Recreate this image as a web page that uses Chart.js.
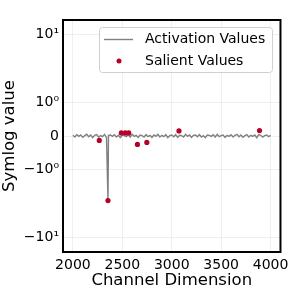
<!DOCTYPE html>
<html>
<head>
<meta charset="utf-8">
<script src="https://cdn.jsdelivr.net/npm/chart.js@4"></script>
<style>
  html, body { margin: 0; padding: 0; background: #fff; }
  #wrap { width: 294px; height: 294px; }
</style>
</head>
<body>
<div id="wrap"><canvas id="chart" width="294" height="294"></canvas></div>
<script>
// channels of the activation trace: 2000..4000, every 20
const channelStart = 2000;
const channelStep = 20;
const activationValues = [
  0.02, -0.03, 0.04, -0.01, 0.03, -0.04, 0.01, 0.05, -0.02, 0.03,
  -0.05, 0.02, 0.04, -0.03, 0.01, -0.02, 0.05, -0.04, 0.02, 0.03,
  -0.01, 0.04, -0.03, 0.02, -0.05, 0.03, 0.01, -0.02, 0.04, -0.03,
  0.05, -0.01, 0.02, -0.04, 0.03, 0.01, -0.03, 0.04, -0.02, 0.02,
  -0.04, 0.03, -0.01, 0.05, -0.03, 0.02, -0.02, 0.04, -0.05, 0.01,
  0.03, -0.02, 0.04, -0.04, 0.02, 0.01, -0.03, 0.05, -0.01, 0.03,
  -0.04, 0.02, 0.03, -0.02, 0.04, -0.03, 0.01, -0.05, 0.03, 0.02,
  -0.01, 0.04, -0.03, 0.05, -0.02, 0.01, 0.03, -0.04, 0.02, -0.01,
  0.04, -0.03, 0.02, 0.05, -0.02, 0.03, -0.04, 0.01, 0.04, -0.03,
  0.02, -0.01, 0.03, -0.05, 0.04, 0.02, -0.03, 0.01, 0.03, -0.02,
  0.02
];
// the one large excursion in the trace
const spikeChannel = 2355;
const spikeValue = -2.85;

// salient channels
const salientChannels = [2267, 2355, 2490, 2531, 2565, 2653, 2748, 3073, 3888];
const salientValues = [-0.13, -2.85, 0.09, 0.09, 0.09, -0.25, -0.19, 0.15, 0.16];

const xTicks = [2000, 2500, 3000, 3500, 4000];
const yTicks = [-10, -1, 0, 1, 10];
const yTickLabels = ['\u221210\u00b9', '\u221210\u2070', '0', '10\u2070', '10\u00b9'];

const FONT = "'DejaVu Sans', sans-serif";

// symmetric log: linear within +-1, one decade per unit outside
const LIN = 0.5;
function fwd(v) {
  const a = Math.abs(v);
  if (a < 1) return LIN * v;
  return Math.sign(v) * (LIN + Math.log10(a));
}
function inv(t) {
  const a = Math.abs(t);
  if (a < LIN) return t / LIN;
  return Math.sign(t) * Math.pow(10, a - LIN);
}

class SymlogScale extends Chart.LinearScale {
  static id = 'symlog';
  buildTicks() {
    return yTicks.map(v => ({ value: v }));
  }
  getPixelForValue(v) {
    const lo = fwd(this.min), hi = fwd(this.max);
    return this.getPixelForDecimal((fwd(v) - lo) / (hi - lo));
  }
  getValueForPixel(p) {
    const lo = fwd(this.min), hi = fwd(this.max);
    return inv(lo + this.getDecimalForPixel(p) * (hi - lo));
  }
}
Chart.register(SymlogScale);

const linePoints = activationValues.map((v, i) => ({ x: channelStart + i * channelStep, y: v }));
linePoints.push({ x: spikeChannel, y: spikeValue });
linePoints.sort((a, b) => a.x - b.x);

const salientPoints = salientChannels.map((c, i) => ({ x: c, y: salientValues[i] }));

const framePlugin = {
  id: 'frame',
  afterDatasetsDraw(chart) {
    const { ctx, chartArea: a } = chart;
    ctx.save();
    ctx.strokeStyle = '#000';
    ctx.lineWidth = 2;
    ctx.strokeRect(a.left, a.top, a.right - a.left, a.bottom - a.top);

    // legend box, upper right inside the axes
    const bx = 99.5, by = 27.5, bw = 173, bh = 45;
    ctx.fillStyle = 'rgba(255,255,255,0.85)';
    ctx.strokeStyle = '#d0d0d0';
    ctx.lineWidth = 1;
    ctx.beginPath();
    ctx.roundRect(bx, by, bw, bh, 3);
    ctx.fill();
    ctx.stroke();

    ctx.strokeStyle = '#808080';
    ctx.lineWidth = 1.4;
    ctx.beginPath();
    ctx.moveTo(104, 39.5);
    ctx.lineTo(133, 39.5);
    ctx.stroke();

    ctx.fillStyle = '#b5022c';
    ctx.beginPath();
    ctx.arc(119, 61, 2.5, 0, Math.PI * 2);
    ctx.fill();

    ctx.fillStyle = '#000';
    ctx.font = '14px ' + FONT;
    ctx.textBaseline = 'middle';
    ctx.fillText('Activation Values', 145, 39.5);
    ctx.fillText('Salient Values', 145, 61);
    ctx.restore();
  }
};

new Chart(document.getElementById('chart'), {
  type: 'scatter',
  data: {
    datasets: [
      {
        label: 'Salient Values',
        data: salientPoints,
        backgroundColor: '#b5022c',
        borderWidth: 0,
        pointRadius: 2.6,
        order: 0
      },
      {
        type: 'line',
        label: 'Activation Values',
        data: linePoints,
        borderColor: '#808080',
        borderWidth: 1.4,
        pointRadius: 0,
        tension: 0,
        order: 1
      }
    ]
  },
  options: {
    responsive: false,
    animation: false,
    layout: { padding: { top: 20, right: 13, left: 0, bottom: 0 } },
    plugins: {
      legend: { display: false },
      tooltip: { enabled: false }
    },
    scales: {
      x: {
        type: 'linear',
        min: 1900,
        max: 4100,
        afterBuildTicks: s => { s.ticks = xTicks.map(v => ({ value: v })); },
        afterFit: s => { s.height = 42; },
        grid: { color: '#ebebeb', lineWidth: 0.8, drawTicks: false },
        border: { display: false },
        ticks: {
          color: '#000',
          padding: 5,
          maxRotation: 0,
          font: { family: FONT, size: 14 },
          callback: v => String(v)
        },
        title: {
          display: true,
          text: 'Channel Dimension',
          color: '#000',
          padding: { top: 0, bottom: 3 },
          font: { family: FONT, size: 16.5 }
        }
      },
      y: {
        type: 'symlog',
        min: -16.4,
        max: 16.4,
        afterFit: s => { s.width = 63; },
        grid: { color: '#ebebeb', lineWidth: 0.8, drawTicks: false },
        border: { display: false },
        ticks: {
          color: '#000',
          padding: 4,
          font: { family: FONT, size: 14 },
          callback: v => yTickLabels[yTicks.indexOf(v)]
        },
        title: {
          display: true,
          text: 'Symlog value',
          color: '#000',
          padding: { top: 0, bottom: 5 },
          font: { family: FONT, size: 16.5 }
        }
      }
    }
  },
  plugins: [framePlugin]
});
</script>
</body>
</html>
